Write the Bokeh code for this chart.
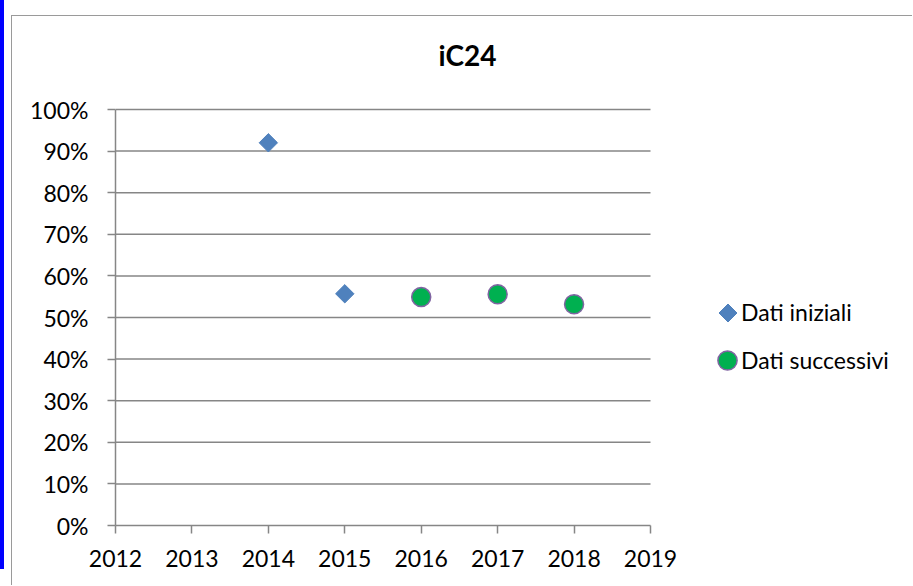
import numpy as np
from bokeh.plotting import figure
from bokeh.models import (FixedTicker, NumeralTickFormatter, Legend, LegendItem,
                          Label, Range1d)
from bokeh.embed import file_html
from bokeh.resources import INLINE

# ---- data ----
years_initial = [2014, 2015]
values_initial = [0.92, 0.557]
years_next = [2016, 2017, 2018]
values_next = [0.549, 0.556, 0.532]
x_ticks = [2012, 2013, 2014, 2015, 2016, 2017, 2018, 2019]
y_ticks = [0.0, 0.1, 0.2, 0.3, 0.4, 0.5, 0.6, 0.7, 0.8, 0.9, 1.0]
title_text = "iC24"
label_initial = "Dati iniziali"
label_next = "Dati successivi"

FONT = "Lato"
GRAY = "#868686"
BLUE = "#4F81BD"

# ---- layout (pixels) ----
W, H = 901, 570
LEFT, RIGHT_AXIS, RIGHT_BORDER = 103, 638, 5
AXIS_TOP, TOP_BORDER, BOTTOM = 93, 5, 61
px_per_year = (RIGHT_AXIS - LEFT) / (x_ticks[-1] - x_ticks[0])
x_end = x_ticks[0] + (W - RIGHT_BORDER - LEFT) / px_per_year
px_per_unit = (H - BOTTOM - AXIS_TOP) / (y_ticks[-1] - y_ticks[0])
y_end = y_ticks[0] + (H - BOTTOM - TOP_BORDER) / px_per_unit

p = figure(width=W, height=H, output_backend="svg", toolbar_location=None,
           x_range=Range1d(x_ticks[0], x_end), y_range=Range1d(y_ticks[0], y_end),
           min_border_left=LEFT, min_border_right=RIGHT_BORDER,
           min_border_top=TOP_BORDER, min_border_bottom=BOTTOM)
p.styles = {
    "margin-left": "11px",
    "margin-top": "15px",
    "border-left": "1px solid #9a9a9a",
    "border-top": "1px solid #9a9a9a",
    "box-shadow": "-7px -16px 0 0 #ffffff, -12px -16px 0 0 #0000ff",
}
p.outline_line_color = None
p.background_fill_color = "white"
p.border_fill_color = "white"

# axes
for ax in (p.xaxis[0], p.yaxis[0]):
    ax.axis_line_color = GRAY
    ax.axis_line_width = 1.5
    ax.major_tick_line_color = GRAY
    ax.major_tick_line_width = 1.5
    ax.major_tick_out = 8
    ax.major_tick_in = 0
    ax.minor_tick_line_color = None
    ax.major_label_text_font = FONT
    ax.major_label_text_font_size = "23px"
    ax.major_label_text_color = "black"

p.xaxis.ticker = FixedTicker(ticks=x_ticks)
p.xaxis.bounds = (x_ticks[0], x_ticks[-1])
p.xaxis.major_label_standoff = 16
p.yaxis.ticker = FixedTicker(ticks=y_ticks)
p.yaxis.bounds = (y_ticks[0], y_ticks[-1])
p.yaxis.formatter = NumeralTickFormatter(format="0%")
p.yaxis.major_label_standoff = 19

# horizontal gridlines only across the year span
p.xgrid.grid_line_color = None
p.ygrid.grid_line_color = None
p.segment(x0=[x_ticks[0]] * len(y_ticks[1:]), x1=[x_ticks[-1]] * len(y_ticks[1:]),
          y0=y_ticks[1:], y1=y_ticks[1:], line_color=GRAY, line_width=1.5)

# data marks
r1 = p.scatter(years_initial, values_initial, marker="square", size=13,
               angle=np.pi / 4, fill_color=BLUE, line_color=BLUE)
r2 = p.scatter(years_next, values_next, marker="circle", size=19,
               fill_color="#00B050", line_color="#8064A2", line_width=1.5)
# legend-only key for the diamond (a point that is never drawn)
key1 = p.ngon(x=[np.nan], y=[np.nan], radius=9, radius_units="screen", n=4,
              fill_color=BLUE, line_color=BLUE)

common = dict(padding=0, margin=0, label_text_font=FONT, label_text_font_size="23px",
              label_text_color="black", background_fill_alpha=0, border_line_color=None)
# keys (glyph only)
g1 = Legend(items=[LegendItem(label="", renderers=[key1])], location=(590, 190),
            glyph_width=45, glyph_height=45, label_standoff=0, label_width=0, **common)
g2 = Legend(items=[LegendItem(label="", renderers=[r2])], location=(588, 141),
            glyph_width=48, glyph_height=48, label_standoff=0, label_width=0, **common)
# labels
tl = Legend(items=[LegendItem(label=label_initial, renderers=[r1]),
                   LegendItem(label=label_next, renderers=[r2])],
            location=(626, 151), glyph_width=0, glyph_height=24, label_height=24,
            spacing=20, label_standoff=0, **common)
for lg in (g1, g2, tl):
    p.add_layout(lg, "center")

# title
title = Label(x=352, y=471, x_units="screen", y_units="screen", text=title_text,
              text_font=FONT, text_font_size="28px", text_font_style="bold",
              text_align="center", text_baseline="middle", text_color="black")
p.add_layout(title)

open("out.html", "w").write(file_html(p, INLINE))
